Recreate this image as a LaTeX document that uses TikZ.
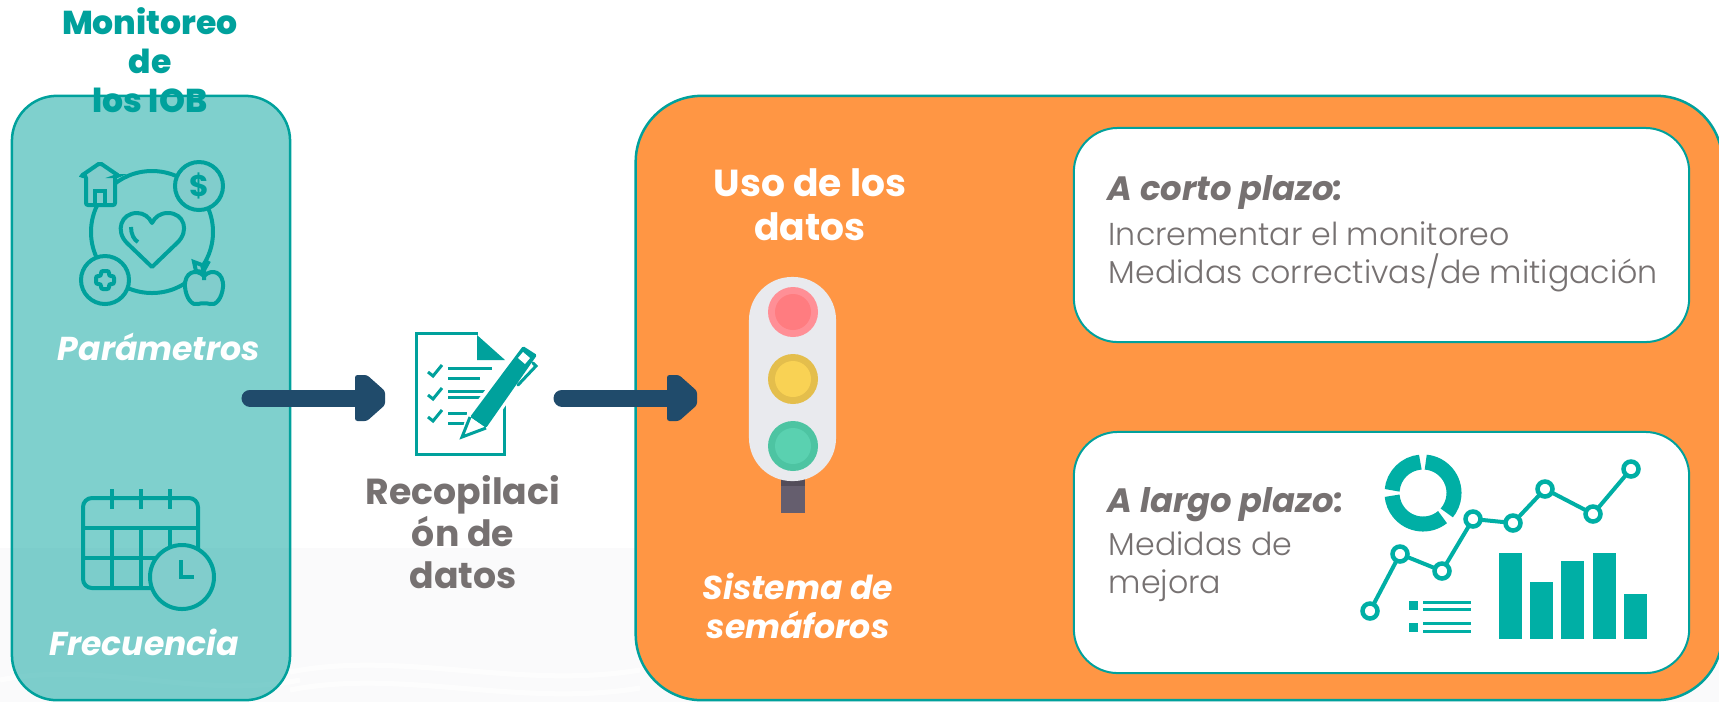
\documentclass[tikz,border=0pt]{standalone}
\usepackage{fontspec}
\setmainfont{Poppins}
\newfontfamily\lightfont{Poppins Light}
\newfontfamily\heavyfont{Poppins ExtraBold}
\usetikzlibrary{arrows.meta, positioning}
\definecolor{iobteal}{HTML}{00A19C}
\definecolor{iobfill}{HTML}{81CDCC}
\definecolor{chartteal}{HTML}{00AFA5}
\definecolor{usoorange}{HTML}{FF9644}
\definecolor{flownavy}{HTML}{204B6B}
\definecolor{textgray}{HTML}{767171}
\definecolor{washgray}{HTML}{FAFAFB}
\definecolor{lampbody}{HTML}{E9EAEE}
\definecolor{lamppost}{HTML}{655E6E}
\definecolor{postdark}{HTML}{534D5A}
\definecolor{redout}{HTML}{FF8F96}
\definecolor{redin}{HTML}{FF7C80}
\definecolor{yellowout}{HTML}{E4BE4C}
\definecolor{yellowin}{HTML}{F9D254}
\definecolor{greenout}{HTML}{4DC4A2}
\definecolor{greenin}{HTML}{5AD1B0}
\tikzset{
  panel/.style={draw=iobteal, line width=0.025cm, inner sep=0pt, outer sep=0pt},
  iconline/.style={draw=iobteal, line width=0.04cm},
  flowarrow/.style={draw=flownavy, line width=0.17cm, line cap=round,
    -{Triangle[length=8.4pt,width=12pt,round]}},
  headfill/.style={fill=flownavy, rounded corners=0.025cm},
  titletext/.style={font=\heavyfont\fontsize{9.4}{11.1}\selectfont, text=iobteal, align=center},
  whitetext/.style={font=\bfseries\fontsize{10.7}{12.5}\selectfont, text=white, align=center},
  whiteital/.style={font=\bfseries\itshape\fontsize{9.4}{10.9}\selectfont, text=white, align=center},
  graytext/.style={font=\bfseries\fontsize{10.3}{12}\selectfont, text=textgray, align=center},
  planhead/.style={font=\bfseries\itshape\fontsize{9.6}{10}\selectfont, text=textgray, anchor=base west, inner sep=0pt},
  plantext/.style={font=\lightfont\fontsize{9}{10.8}\selectfont, text=textgray, align=left, anchor=base west, inner sep=0pt},
}
\begin{document}
\begin{tikzpicture}[x=0.01cm, y=-0.01cm]
\useasboundingbox (0,0) rectangle (1719,702);
\fill[washgray] (0,548) rectangle (1719,702);
\draw[white, line width=0.05cm, opacity=0.7] (290,672) .. controls (400,650) and (520,690) .. (640,670);
\draw[white, line width=0.05cm, opacity=0.7] (290,690) .. controls (400,668) and (520,708) .. (640,688);
\draw[white, line width=0.05cm, opacity=0.7] (0,680) .. controls (100,660) and (200,700) .. (300,680);

\node[panel, fill=iobteal, fill opacity=0.5, draw opacity=1, rounded corners=0.45cm, minimum width=2.78cm, minimum height=6.04cm] (iobbox) at (151,398) {};
\node[panel, fill=usoorange, rounded corners=0.66cm, minimum width=10.86cm, minimum height=6.04cm] (usobox) at (1179,398) {};
\node[panel, line width=0.02cm, fill=white, rounded corners=0.44cm, minimum width=6.15cm, minimum height=2.14cm] (cortobox) at (1381.5,235) {};
\node[panel, line width=0.02cm, fill=white, rounded corners=0.44cm, minimum width=6.15cm, minimum height=2.41cm] (largobox) at (1381.5,552.5) {};

\node[titletext] (titulo) at (150,60) {Monitoreo\\de\\los IOB};

% parametros
\draw[iconline] (152,232) circle[radius=61];
\draw[iconline, fill=iobfill] (199,186) circle[radius=24];
\draw[iconline, fill=iobfill] (105,280) circle[radius=24];
\node[text=iobteal, font=\bfseries\fontsize{8.5}{9}\selectfont, inner sep=0pt] (dolar) at (199,186) {\$};
\draw[iconline, rounded corners=0.02cm] (101,271) -- (109,271) -- (109,276) -- (114,276) -- (114,284) -- (109,284) -- (109,289) -- (101,289) -- (101,284) -- (96,284) -- (96,276) -- (101,276) -- cycle;
\draw[iconline, fill=iobfill, rounded corners=0.02cm] (86,176) -- (86,205) -- (115,205) -- (115,176) -- (119,176) -- (100,163) -- (81,176) -- cycle;
\draw[iconline] (95,205) -- (95,191) -- (105,191) -- (105,205);
\draw[iconline, line join=round] (152,267) -- (127,243) .. controls (115,231) and (121,213) .. (137,213) .. controls (144,213) and (149,217) .. (152,223) .. controls (155,217) and (160,213) .. (168,213) .. controls (184,213) and (190,231) .. (177,243) -- cycle;
\draw[iconline] (131,227) .. controls (131,234) and (134,240) .. (138,242);
\draw[iconline, fill=iobfill] (204,276) .. controls (196,268) and (184,272) .. (185,287) .. controls (186,298) and (192,306) .. (198,304) .. controls (201,303) and (207,303) .. (210,304) .. controls (216,306) and (222,298) .. (223,287) .. controls (224,272) and (212,268) .. (204,276) -- cycle;
\draw[iconline] (204,280) -- (204,270) -- (209,261);
\draw[iconline, fill=iobfill] (204,272) -- (196,271) -- (194,262) -- (202,265) -- cycle;
\node[whiteital] (parametros) at (159,347) {Parámetros};

% frecuencia
\draw[iconline, rounded corners=0.09cm] (83,498) rectangle (198,588);
\draw[iconline] (83,528) -- (198,528);
\draw[iconline] (83,558) -- (198,558);
\draw[iconline] (112,528) -- (112,588);
\draw[iconline] (141,528) -- (141,588);
\draw[iconline] (170,528) -- (170,588);
\draw[iconline] (112,489) -- (112,509);
\draw[iconline] (141,489) -- (141,509);
\draw[iconline] (170,489) -- (170,509);
\draw[iconline, fill=iobfill] (182,577) circle[radius=32];
\draw[iconline] (181,560) -- (181,577) -- (194,577);
\node[whiteital] (frecuencia) at (144,642) {Frecuencia};

% recopilacion
\draw[iconline, line width=0.03cm] (504,405) -- (504,454) -- (416,454) -- (416,333) -- (478,333);
\fill[iobteal] (477,335) -- (477,360) -- (505,360) -- cycle;
\draw[iconline, line width=0.03cm] (428,372) -- (433,376) -- (442,365);
\draw[iconline, line width=0.03cm] (428,395) -- (433,399) -- (442,388);
\draw[iconline, line width=0.03cm] (428,417) -- (433,421) -- (442,410);
\draw[iconline, line width=0.03cm] (448,368) -- (492,368);
\draw[iconline, line width=0.03cm] (448,378) -- (480,378);
\draw[iconline, line width=0.03cm] (448,391) -- (485,391);
\draw[iconline, line width=0.03cm] (448,397) -- (482,397);
\draw[iconline, line width=0.03cm] (448,413) -- (467,413);
\draw[iconline, line width=0.03cm] (448,423) -- (465,423);
\fill[white] (459,440) -- (467,414) -- (521,343) -- (540,356) -- (488,431) -- cycle;
\fill[iobteal, rounded corners=0.015cm] (470,417) -- (523,346) -- (537,355) -- (486,428) -- cycle;
\fill[white] (518,358) -- (523,352) -- (530,358) -- (525,364) -- cycle;
\draw[iconline, line width=0.03cm, fill=white] (470,417) -- (462,437) -- (486,428);
\draw[iconline, line width=0.03cm, line cap=round] (533,363) -- (536,366) -- (518,385);
\node[graytext] (recopilacion) at (463,532) {Recopilaci\\ón de\\datos};

% semaforo
\fill[lamppost] (781,476) rectangle (805,513);
\fill[postdark] (781,476) rectangle (805,486);
\node[inner sep=0pt, outer sep=0pt, fill=lampbody, rounded corners=0.43cm, minimum width=0.87cm, minimum height=2.04cm] (semaforo) at (792.5,379) {};
\fill[redout] (793,312) circle[radius=25];
\fill[redin] (793,312) circle[radius=18];
\fill[yellowout] (793,379) circle[radius=25];
\fill[yellowin] (793,379) circle[radius=18];
\fill[greenout] (793,446) circle[radius=25];
\fill[greenin] (793,446) circle[radius=18];
\node[whitetext] (usodatos) at (810,205) {Uso de los\\datos};
\node[whiteital] (sistema) at (798,606) {Sistema de\\semáforos};

% flechas
\coordinate (startuno) at (250,398);
\coordinate (tipuno) at (385,398);
\coordinate (startdos) at (562,398);
\coordinate (tipdos) at (697,398);
\draw[flowarrow] (startuno) -- (tipuno);
\draw[flowarrow] (startdos) -- (tipdos);
\fill[headfill] (tipuno) ++(0,-7) -- ++(-18,-16) -- ++(-12,0) -- ++(0,46) -- ++(12,0) -- ++(18,-16) -- cycle;
\fill[headfill] (tipdos) ++(0,-7) -- ++(-18,-16) -- ++(-12,0) -- ++(0,46) -- ++(12,0) -- ++(18,-16) -- cycle;

% plazos
\node[planhead] (cortohead) at (1107,200) {A corto plazo:};
\node[plantext] (cortotext) at (1108,283) {Incrementar el monitoreo\\Medidas correctivas/de mitigación};
\node[planhead] (largohead) at (1107,512) {A largo plazo:};
\node[plantext] (largotext) at (1108,593) {Medidas de\\mejora};

% grafica
\draw[chartteal, line width=0.15cm] (1423,493) ++(-85:31) arc[start angle=-85, end angle=40, radius=31];
\draw[chartteal, line width=0.15cm] (1423,493) ++(51:31) arc[start angle=51, end angle=175, radius=31];
\draw[chartteal, line width=0.15cm] (1423,493) ++(185:31) arc[start angle=185, end angle=265, radius=31];
\draw[chartteal, line width=0.04cm] (1370,611) -- (1400,554) -- (1442,571) -- (1473,519) -- (1513,523) -- (1545,489) -- (1593,514) -- (1631,469);
\draw[chartteal, line width=0.045cm, fill=white] (1370,611) circle[radius=7.5];
\draw[chartteal, line width=0.045cm, fill=white] (1400,554) circle[radius=7.5];
\draw[chartteal, line width=0.045cm, fill=white] (1442,571) circle[radius=7.5];
\draw[chartteal, line width=0.045cm, fill=white] (1473,519) circle[radius=7.5];
\draw[chartteal, line width=0.045cm, fill=white] (1513,523) circle[radius=7.5];
\draw[chartteal, line width=0.045cm, fill=white] (1545,489) circle[radius=7.5];
\draw[chartteal, line width=0.045cm, fill=white] (1593,514) circle[radius=7.5];
\draw[chartteal, line width=0.045cm, fill=white] (1631,469) circle[radius=7.5];
\fill[chartteal] (1499,553) rectangle (1522,639);
\fill[chartteal] (1530,582) rectangle (1553,639);
\fill[chartteal] (1561,561) rectangle (1584,639);
\fill[chartteal] (1593,553) rectangle (1616,639);
\fill[chartteal] (1624,594) rectangle (1647,639);
\fill[chartteal] (1409,601) rectangle (1418,610);
\fill[chartteal] (1409,623) rectangle (1418,632);
\draw[chartteal, line width=0.03cm] (1423,602) -- (1471,602);
\draw[chartteal, line width=0.03cm] (1423,609) -- (1471,609);
\draw[chartteal, line width=0.03cm] (1423,623) -- (1471,623);
\draw[chartteal, line width=0.03cm] (1423,631) -- (1471,631);
\end{tikzpicture}
\end{document}
